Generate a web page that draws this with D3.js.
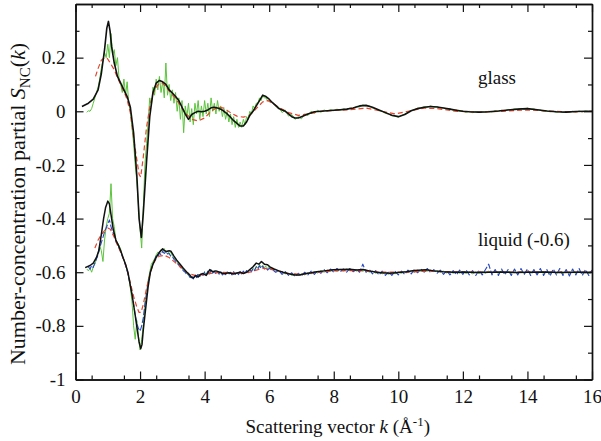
<!DOCTYPE html>
<html>
<head>
<meta charset="utf-8">
<script src="https://cdn.jsdelivr.net/npm/d3@7"></script>
<style>
  html, body { margin: 0; padding: 0; background: #fff; }
</style>
</head>
<body>
<svg id="chart" width="601" height="441" style="font-family:'Liberation Serif', 'Times New Roman', serif"></svg>
<script>
// ---- Sampling grids for the noisy measured series ----
// fine grid: k = 0.35 ... 6.0 step 0.05; coarse grid: k = 6.1 ... 16.0 step 0.1
const fineK = d3.range(7, 121).map(i => i / 20);
const coarseK = d3.range(61, 161).map(i => i / 10);

// ---- Glass: simulation (black), fit (red dashed), experiment (green) ----
const glassBlack = [[0.2,0.018],[0.4,0.03],[0.55,0.045],[0.7,0.08],[0.8,0.14],[0.9,0.23],[0.97,0.31],[1.02,0.335],[1.07,0.3],[1.12,0.24],[1.2,0.18],[1.3,0.13],[1.4,0.105],[1.5,0.08],[1.6,0.055],[1.7,0.015],[1.8,-0.08],[1.9,-0.24],[1.97,-0.4],[2.04,-0.47],[2.1,-0.38],[2.2,-0.19],[2.3,-0.02],[2.4,0.07],[2.5,0.105],[2.6,0.115],[2.7,0.11],[2.8,0.1],[2.9,0.08],[3.0,0.068],[3.1,0.055],[3.2,0.04],[3.3,0.015],[3.4,-0.01],[3.5,-0.03],[3.6,-0.012],[3.7,-0.005],[3.8,0.0],[3.9,-0.002],[4.0,0.0],[4.1,0.005],[4.2,0.013],[4.3,0.015],[4.4,0.012],[4.5,0.008],[4.6,0.0],[4.7,-0.01],[4.8,-0.022],[4.9,-0.035],[5.0,-0.045],[5.1,-0.055],[5.2,-0.055],[5.3,-0.04],[5.4,-0.015],[5.5,0.0],[5.6,0.02],[5.7,0.04],[5.8,0.06],[5.9,0.055],[6.0,0.045],[6.1,0.032],[6.2,0.022],[6.3,0.01],[6.4,0.005],[6.5,0.0],[6.6,-0.01],[6.7,-0.02],[6.8,-0.025],[6.9,-0.025],[7.0,-0.02],[7.2,-0.01],[7.4,-0.002],[7.6,0.0],[7.8,0.002],[8.0,0.004],[8.2,0.006],[8.4,0.008],[8.6,0.012],[8.8,0.02],[9.0,0.022],[9.2,0.015],[9.4,0.005],[9.6,-0.005],[9.8,-0.015],[10.0,-0.02],[10.2,-0.012],[10.4,0.002],[10.6,0.01],[10.8,0.015],[11.0,0.018],[11.2,0.016],[11.4,0.012],[11.6,0.008],[11.8,0.004],[12.0,0.0],[12.2,-0.002],[12.5,-0.003],[12.8,-0.002],[13.1,0.001],[13.4,0.005],[13.7,0.008],[14.0,0.01],[14.3,0.006],[14.6,0.001],[14.9,-0.002],[15.2,-0.003],[15.5,-0.001],[15.8,0.0],[16.0,0.0]];

const glassRed = [[0.62,0.13],[0.7,0.16],[0.8,0.19],[0.9,0.2],[0.97,0.2],[1.05,0.185],[1.2,0.155],[1.3,0.125],[1.4,0.1],[1.5,0.075],[1.6,0.043],[1.7,-0.006],[1.8,-0.1],[1.9,-0.18],[1.97,-0.235],[2.02,-0.245],[2.1,-0.17],[2.2,-0.06],[2.3,0.015],[2.4,0.065],[2.5,0.09],[2.6,0.105],[2.7,0.105],[2.8,0.09],[3.0,0.062],[3.2,0.03],[3.4,-0.006],[3.6,-0.03],[3.8,-0.036],[4.0,-0.025],[4.2,0.0],[4.4,0.015],[4.6,0.012],[4.8,-0.005],[5.0,-0.018],[5.2,-0.022],[5.4,-0.015],[5.6,0.01],[5.8,0.035],[5.95,0.04],[6.1,0.03],[6.3,0.015],[6.6,-0.005],[6.9,-0.015],[7.2,-0.01],[7.6,0.0],[8.0,0.003],[8.5,0.006],[9.0,0.012],[9.5,0.0],[9.9,-0.01],[10.3,0.0],[10.8,0.012],[11.2,0.01],[11.8,0.0],[12.5,-0.003],[13.2,0.0],[14.0,0.005],[14.8,0.0],[15.5,-0.002],[16.0,0.0]];

const glassGreenFine = [-0.004,0.002,
  0.0,0.01,0.03,0.05,0.07,0.09,0.12,0.16,0.19,0.22,0.2,0.25,0.2,0.29,0.21,0.23,0.17,0.2,0.12,0.1,
  0.07,0.12,0.06,0.11,0.03,0.0,-0.06,-0.12,-0.2,-0.26,-0.35,-0.44,-0.51,-0.36,-0.2,-0.12,-0.04,0.05,0.02,0.09,
  0.06,0.12,0.08,0.13,0.07,0.11,0.05,0.18,0.06,0.1,0.04,0.08,0.03,0.07,0.0,0.05,-0.03,0.04,-0.08,0.02,
  -0.02,0.03,-0.04,0.01,-0.05,0.03,-0.01,0.04,-0.03,0.02,-0.02,0.04,-0.01,0.03,-0.02,0.05,0.0,0.03,-0.01,0.04,
  0.0,0.02,-0.02,0.01,-0.03,0.0,-0.04,-0.01,-0.05,-0.02,-0.06,-0.03,-0.06,-0.04,-0.06,-0.03,-0.05,-0.02,-0.03,0.0,
  -0.01,0.02,0.01,0.03,0.03,0.05,0.04,0.06,0.05,0.05,0.04,0.04];
const glassGreenCoarse = [0.035,0.018,0.015,-0.005,0.004,-0.018,-0.012,-0.03,-0.02,-0.028,
  -0.01,-0.016,0.0,-0.008,0.004,-0.004,0.005,0.0,0.006,0.002,
  0.008,0.003,0.009,0.006,0.012,0.01,0.018,0.016,0.024,0.02,
  0.02,0.012,0.01,0.002,0.0,-0.008,-0.01,-0.017,-0.018,-0.022,
  -0.016,-0.01,-0.004,0.003,0.006,0.012,0.012,0.017,0.015,0.02,
  0.015,0.018,0.012,0.013,0.008,0.01,0.003,0.005,-0.001,0.001,
  -0.004,0.0,-0.005,-0.001,-0.005,-0.002,-0.004,0.0,-0.003,0.002,
  0.0,0.004,0.002,0.007,0.005,0.009,0.007,0.011,0.008,0.012,
  0.007,0.009,0.004,0.005,0.0,0.002,-0.002,0.0,-0.004,-0.001,
  -0.005,-0.002,-0.004,0.0,-0.003,0.001,-0.002,0.001,-0.001,0.0];

// ---- Liquid (values unshifted; drawn with the offset below) ----
const liquidOffset = -0.6;

const liquidBlack = [[0.3,0.017],[0.45,0.025],[0.55,0.034],[0.65,0.055],[0.72,0.08],[0.8,0.14],[0.87,0.2],[0.93,0.24],[1.0,0.265],[1.05,0.255],[1.1,0.215],[1.17,0.16],[1.25,0.12],[1.33,0.1],[1.4,0.08],[1.48,0.052],[1.55,0.03],[1.63,-0.004],[1.7,-0.05],[1.76,-0.09],[1.84,-0.153],[1.92,-0.22],[1.97,-0.26],[2.02,-0.285],[2.06,-0.27],[2.1,-0.215],[2.18,-0.128],[2.25,-0.054],[2.32,0.0],[2.4,0.03],[2.51,0.058],[2.6,0.075],[2.7,0.087],[2.76,0.08],[2.82,0.077],[2.9,0.08],[2.96,0.078],[3.05,0.06],[3.13,0.046],[3.24,0.03],[3.34,0.015],[3.45,0.0],[3.54,-0.01],[3.6,-0.02],[3.65,-0.022],[3.72,-0.012],[3.8,-0.018],[3.85,-0.01],[3.95,-0.005],[4.05,-0.012],[4.16,0.01],[4.25,0.002],[4.35,0.005],[4.47,0.0],[4.6,-0.006],[4.75,-0.002],[4.89,-0.007],[5.0,-0.003],[5.1,0.0],[5.2,-0.005],[5.3,0.0],[5.4,0.01],[5.5,0.02],[5.6,0.034],[5.68,0.03],[5.76,0.04],[5.85,0.03],[5.95,0.028],[6.02,0.02],[6.15,0.012],[6.3,0.005],[6.43,0.0],[6.6,-0.006],[6.8,-0.01],[6.95,-0.01],[7.1,-0.006],[7.3,-0.002],[7.47,0.002],[7.7,0.005],[7.98,0.009],[8.2,0.01],[8.5,0.011],[8.7,0.008],[8.91,0.01],[9.1,0.005],[9.33,0.0],[9.5,-0.002],[9.74,-0.004],[10.0,-0.001],[10.25,0.002],[10.5,0.006],[10.87,0.009],[11.1,0.005],[11.39,0.002],[11.7,0.0],[12.0,0.001],[12.4,-0.001],[12.83,0.0],[13.2,0.001],[13.6,-0.001],[14.0,0.0],[14.5,0.001],[15.0,-0.001],[15.5,0.0],[16.0,0.0]];

const liquidRed = [[0.6,0.09],[0.7,0.12],[0.8,0.14],[0.9,0.155],[1.0,0.165],[1.08,0.16],[1.2,0.13],[1.3,0.1],[1.4,0.075],[1.5,0.045],[1.6,0.01],[1.7,-0.04],[1.8,-0.09],[1.9,-0.13],[1.97,-0.15],[2.03,-0.15],[2.1,-0.12],[2.2,-0.06],[2.3,-0.01],[2.4,0.03],[2.5,0.05],[2.6,0.06],[2.75,0.063],[2.9,0.055],[3.1,0.035],[3.3,0.015],[3.5,-0.005],[3.7,-0.012],[3.9,-0.01],[4.2,-0.004],[4.5,0.0],[5.0,-0.004],[5.4,0.0],[5.8,0.015],[6.2,0.008],[6.6,-0.005],[7.0,-0.008],[7.5,0.0],[8.0,0.005],[8.8,0.006],[9.5,0.0],[10.2,0.0],[11.0,0.004],[12.0,0.0],[13.0,0.0],[14.0,0.001],[15.0,0.0],[16.0,0.0]];

const liquidGreenFine = [0.012,0.005,0.015,0.0,0.02,0.03,0.05,0.07,0.1,0.08,
  0.04,0.12,0.17,0.2,0.22,0.33,0.2,0.17,0.12,0.11,
  0.1,0.085,0.06,0.045,0.03,0.01,-0.02,-0.06,-0.11,-0.2,
  -0.25,-0.18,-0.24,-0.29,-0.25,-0.2,-0.12,-0.08,-0.03,0.0,
  0.03,0.04,0.05,0.065,0.075,0.07,0.085,0.08,0.088,0.072,
  0.08,0.07,0.075,0.06,0.055,0.045,0.04,0.03,0.025,0.015,
  0.01,0.0,-0.005,-0.012,-0.02,-0.015,-0.022,-0.012,-0.018,-0.008,
  -0.015,-0.005,-0.01,0.0,-0.008,0.004,-0.004,0.006,-0.002,0.005,
  -0.004,0.002,-0.006,0.0,-0.007,-0.002,-0.008,0.0,-0.006,-0.002,
  -0.008,0.0,-0.006,-0.002,-0.007,0.001,-0.005,0.002,-0.003,0.004,
  0.0,0.008,0.004,0.014,0.01,0.022,0.016,0.028,0.02,0.026,
  0.018,0.022,0.014,0.018];
const liquidGreenCoarse = [0.012,0.01,0.003,0.002,-0.006,-0.004,-0.012,-0.006,-0.012,-0.006,
  -0.01,-0.002,-0.006,0.002,-0.003,0.006,0.0,0.008,0.003,0.01,
  0.004,0.011,0.005,0.012,0.006,0.011,0.004,0.01,0.004,0.008,
  0.0,0.004,-0.004,0.0,-0.006,-0.002,-0.008,-0.002,-0.006,0.0,
  -0.004,0.003,-0.002,0.006,0.0,0.008,0.003,0.01,0.004,0.008,
  0.002,0.006,0.0,0.004,-0.003,0.003,-0.004,0.002,-0.004,0.003,
  -0.005,0.002,-0.006,0.002,-0.005,0.003,-0.004,0.004,-0.004,0.004,
  -0.005,0.005,-0.004,0.004,-0.005,0.004,-0.006,0.004,-0.005,0.005,
  -0.004,0.004,-0.006,0.003,-0.005,0.004,-0.006,0.004,-0.005,0.004,
  -0.006,0.004,-0.005,0.004,-0.006,0.004,-0.005,0.003,-0.005,0.003];

const liquidBlueFine = [null,0.02,0.012,0.025,0.018,0.035,0.05,0.065,0.09,0.11,
  0.13,0.15,0.165,0.18,0.195,0.17,0.15,0.14,0.115,0.105,
  0.09,0.075,0.06,0.045,0.025,0.005,-0.02,-0.05,-0.08,-0.12,
  -0.16,-0.19,-0.21,-0.22,-0.2,-0.17,-0.12,-0.08,-0.04,-0.01,
  0.015,0.03,0.045,0.06,0.055,0.072,0.065,0.078,0.07,0.075,
  0.068,0.07,0.06,0.058,0.048,0.042,0.032,0.028,0.018,0.012,
  0.004,0.0,-0.01,-0.008,-0.02,-0.012,-0.025,-0.01,-0.02,-0.004,
  -0.016,-0.002,-0.012,0.002,-0.01,0.004,-0.006,0.008,-0.004,0.004,
  -0.008,0.003,-0.007,0.002,-0.01,0.0,-0.009,0.001,-0.008,0.0,
  -0.01,0.002,-0.008,0.0,-0.009,0.003,-0.006,0.004,-0.005,0.006,
  -0.002,0.01,0.002,0.014,0.006,0.02,0.012,0.024,0.014,0.022,
  0.012,0.018,0.008,0.014];
const liquidBlueCoarse = [0.01,0.0,0.006,-0.008,0.002,-0.012,-0.002,-0.016,-0.004,-0.014,
  0.0,-0.01,0.004,-0.008,0.006,-0.004,0.01,-0.002,0.012,0.0,
  0.014,0.002,0.012,0.0,0.014,0.002,0.01,0.0,0.03,0.0,
  0.01,-0.006,0.006,-0.01,0.004,-0.012,0.002,-0.012,0.003,-0.01,
  0.004,-0.008,0.008,-0.006,0.01,-0.002,0.012,0.0,0.014,-0.002,
  0.01,-0.004,0.008,-0.008,0.006,-0.01,0.006,-0.01,0.008,-0.008,
  0.008,-0.01,0.006,-0.012,0.008,-0.01,0.01,0.03,-0.01,0.01,
  -0.012,0.012,-0.01,0.01,-0.012,0.012,-0.01,0.014,-0.008,0.012,
  -0.012,0.01,-0.01,0.014,-0.012,0.01,-0.014,0.012,-0.01,0.014,
  -0.012,0.01,-0.014,0.012,-0.01,0.014,-0.012,0.01,-0.012,0.008];

// ---- Axis ticks ----
const xMajor = [0, 2, 4, 6, 8, 10, 12, 14, 16];
const xMinor = d3.range(1, 32, 2).map(i => i / 2);
const yMajor = [-1, -0.8, -0.6, -0.4, -0.2, 0, 0.2];
const yMinor = [-0.9, -0.7, -0.5, -0.3, -0.1, 0.1, 0.3];

// ---- Layout ----
const FONT = "font-family:'Liberation Serif','Times New Roman',serif;";
const svg = d3.select("#chart");
const x = d3.scaleLinear().domain([0, 16]).range([75.5, 592]);
const y = d3.scaleLinear().domain([-1, 0.4]).range([379.5, 4]);

const onGrid = (grid, vals) => grid.map((k, i) => [k, vals[i]]);
const shift = (pts, d) => pts.map(([k, v]) => [k, v == null ? null : v + d]);

const line = d3.line()
  .defined(d => d[1] != null)
  .x(d => x(d[0]))
  .y(d => y(d[1]));

const plot = svg.append("g");
plot.append("clipPath").attr("id", "clip")
  .append("rect").attr("x", x(0)).attr("y", y(0.4))
  .attr("width", x(16) - x(0)).attr("height", y(-1) - y(0.4));
const curves = plot.append("g").attr("clip-path", "url(#clip)");

function draw(pts, color, width, dash) {
  const p = curves.append("path").datum(pts)
    .attr("fill", "none").attr("stroke", color)
    .attr("stroke-width", width).attr("stroke-linejoin", "round")
    .attr("d", line);
  if (dash) p.attr("stroke-dasharray", dash);
}

const green = "#5cc43c", red = "#e5452d", blue = "#2646c4", black = "#111";

// glass
draw(onGrid(fineK, glassGreenFine).concat(onGrid(coarseK, glassGreenCoarse)), green, 1);
draw(glassRed, red, 1.2, "5,3");
draw(glassBlack, black, 1.6);

// liquid
draw(shift(onGrid(fineK, liquidGreenFine).concat(onGrid(coarseK, liquidGreenCoarse)), liquidOffset), green, 1);
draw(shift(onGrid(fineK, liquidBlueFine).concat(onGrid(coarseK, liquidBlueCoarse)), liquidOffset), blue, 1.1, "6,2");
draw(shift(liquidRed, liquidOffset), red, 1.2, "5,3");
draw(shift(liquidBlack, liquidOffset), black, 1.5);

// ---- Axes (ticks pointing inward on all four sides) ----
function styleAxis(g) {
  g.attr("font-family", null).attr("font-size", null);
  g.selectAll("path.domain").attr("stroke", "#111").attr("stroke-width", 1.4);
  g.selectAll(".tick line").attr("stroke", "#111").attr("stroke-width", 1.2);
  g.selectAll(".tick text").attr("fill", "#111").attr("style", FONT + "font-size:19px");
}

svg.append("g").attr("transform", `translate(0,${y(-1)})`)
  .call(d3.axisBottom(x).tickValues(xMajor).tickSize(-8).tickSizeOuter(0).tickPadding(10).tickFormat(d3.format("d")))
  .call(styleAxis);
svg.append("g").attr("transform", `translate(0,${y(-1)})`)
  .call(d3.axisBottom(x).tickValues(xMinor).tickSize(-4).tickSizeOuter(0).tickFormat(""))
  .call(styleAxis);
svg.append("g").attr("transform", `translate(0,${y(0.4)})`)
  .call(d3.axisTop(x).tickValues(xMajor).tickSize(-8).tickSizeOuter(0).tickFormat(""))
  .call(styleAxis);
svg.append("g").attr("transform", `translate(0,${y(0.4)})`)
  .call(d3.axisTop(x).tickValues(xMinor).tickSize(-4).tickSizeOuter(0).tickFormat(""))
  .call(styleAxis);

svg.append("g").attr("transform", `translate(${x(0)},0)`)
  .call(d3.axisLeft(y).tickValues(yMajor).tickSize(-8).tickSizeOuter(0).tickPadding(10)
    .tickFormat(d => d === 0 ? "0" : (d === -1 ? "-1" : d3.format(".1f")(d).replace("−", "-"))))
  .call(styleAxis);
svg.append("g").attr("transform", `translate(${x(0)},0)`)
  .call(d3.axisLeft(y).tickValues(yMinor).tickSize(-4).tickSizeOuter(0).tickFormat(""))
  .call(styleAxis);
svg.append("g").attr("transform", `translate(${x(16)},0)`)
  .call(d3.axisRight(y).tickValues(yMajor).tickSize(-8).tickSizeOuter(0).tickFormat(""))
  .call(styleAxis);
svg.append("g").attr("transform", `translate(${x(16)},0)`)
  .call(d3.axisRight(y).tickValues(yMinor).tickSize(-4).tickSizeOuter(0).tickFormat(""))
  .call(styleAxis);

// ---- Axis titles ----
const xt = svg.append("text")
  .attr("x", (x(0) + x(16)) / 2 + 4).attr("y", 433)
  .attr("text-anchor", "middle").attr("fill", "#111").attr("style", FONT + "font-size:19px");
xt.append("tspan").text("Scattering vector ");
xt.append("tspan").style("font-style", "italic").text("k");
xt.append("tspan").text(" (Å");
xt.append("tspan").attr("dy", -7).style("font-size", "13px").text("-1");
xt.append("tspan").attr("dy", 7).text(")");

const yt = svg.append("text")
  .attr("transform", "translate(25,204) rotate(-90)")
  .attr("text-anchor", "middle").attr("fill", "#111").attr("style", FONT + "font-size:22px");
yt.append("tspan").text("Number-concentration partial ");
yt.append("tspan").style("font-style", "italic").text("S");
yt.append("tspan").attr("dy", 5).style("font-size", "15px").text("NC");
yt.append("tspan").attr("dy", -5).text("(");
yt.append("tspan").style("font-style", "italic").text("k");
yt.append("tspan").text(")");

// ---- Curve labels ----
svg.append("text").attr("x", 478).attr("y", 84).attr("fill", "#111").attr("style", FONT + "font-size:19px").text("glass");
svg.append("text").attr("x", 478).attr("y", 246).attr("fill", "#111").attr("style", FONT + "font-size:19px").text("liquid (-0.6)");
</script>
</body>
</html>
